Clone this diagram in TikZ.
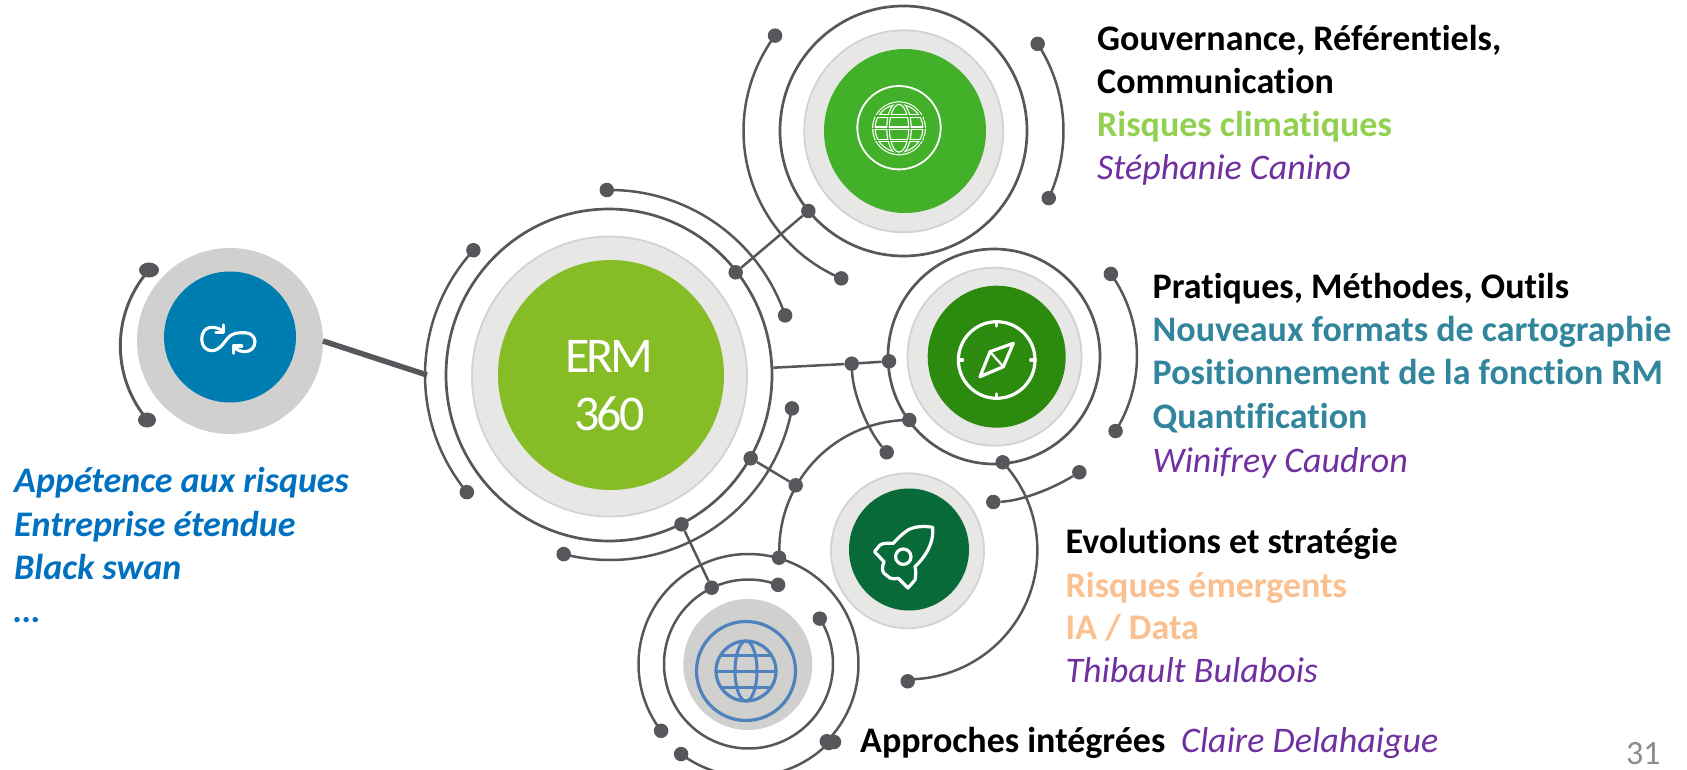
\documentclass[tikz,border=0pt]{standalone}
\usepackage{fontspec}
\setmainfont{Carlito}[Ligatures=NoCommon]
\newfontfamily\ermfont[LetterSpace=-6,Ligatures=NoCommon]{Carlito}
\usetikzlibrary{calc,shapes.geometric}
\definecolor{wirec}{HTML}{55575B}
\definecolor{ermg}{HTML}{86BC25}
\definecolor{topg}{HTML}{43B02A}
\definecolor{compg}{HTML}{2C8A0F}
\definecolor{rockg}{HTML}{076A38}
\definecolor{blueb}{HTML}{007DB0}
\definecolor{halo}{HTML}{E7E7E5}
\definecolor{halob}{HTML}{D2D2D0}
\definecolor{greyb}{HTML}{D0D0CE}
\definecolor{globeb}{HTML}{4F81BD}
\definecolor{txtgreen}{HTML}{92D050}
\definecolor{txtteal}{HTML}{31859C}
\definecolor{txtpeach}{HTML}{FAC090}
\definecolor{txtpurple}{HTML}{7030A0}
\definecolor{txtblue}{HTML}{0070C0}
\definecolor{txtgrey}{HTML}{8B8B8B}
\tikzset{
  disc/.style={ellipse,inner sep=0pt,outer sep=0pt},
  ringc/.style={disc,draw=wirec,line width=2.7pt},
  haloc/.style={disc,fill=halo,draw=halob,line width=1.8pt},
  wire/.style={draw=wirec,line width=2.5pt},
  dotnode/.style={circle,fill=wirec,inner sep=0pt,minimum size=14.5pt},
  dotwide/.style={ellipse,fill=wirec,inner sep=0pt,minimum width=20pt,minimum height=15pt},
  icon/.style={draw=white,line width=3.2pt,line cap=round,line join=round},
  lab/.style={anchor=base west,inner sep=0pt,font=\fontsize{36}{43}\selectfont},
  head/.style={lab,text=black,font=\fontsize{36}{43}\selectfont\bfseries},
  topic/.style={head,text=#1},
  who/.style={lab,text=txtpurple,font=\fontsize{36}{43}\selectfont\itshape},
  lefttxt/.style={lab,text=txtblue,font=\fontsize{36}{43}\selectfont\bfseries\itshape},
}
\newcommand{\ringarc}[6]{%
  \node[dotnode] (#1) at ($(#3)+(#5:#4)$) {};
  \node[dotnode] (#2) at ($(#3)+(#6:#4)$) {};
  \draw[wire] (#1.center) arc[start angle=#5,end angle=#6,radius=#4];
}
\begin{document}
\begin{tikzpicture}[x=1pt,y=-1pt]
\useasboundingbox (0,0) rectangle (1687,770);
% centres
\coordinate (cL) at (234,345);
\coordinate (cE) at (610,375);
\coordinate (cT) at (903.5,131);
\coordinate (cC) at (995,356);
\coordinate (cR) at (909,550);
\coordinate (cB) at (748.5,664);

% thick link and left arc
\node[disc,fill=greyb,minimum width=186pt,minimum height=186pt] (blueouter) at (230,341) {};
\node[disc,fill=blueb,minimum width=132pt,minimum height=131pt] (blueinner) at (230,337) {};
\node[dotwide] (la) at (149,270) {};
\node[dotwide,minimum width=18pt,minimum height=15pt] (lb) at (147,420) {};
\draw[wire,line width=2.9pt] (la.center) arc[start angle=221.4,end angle=139.2,radius=114.7];

% ERM
\node[ringc,minimum width=326pt,minimum height=332pt] (ermring) at (609,375) {};
\node[haloc,minimum width=275pt,minimum height=280pt] (ermhalo) at (609.5,376.5) {};
\node[disc,fill=ermg,minimum width=226pt,minimum height=230pt] (ermdisc) at (611,375) {};
\node[text=white,inner sep=0pt,anchor=base,font=\fontsize{50}{54}\ermfont] (ermA) at (609.5,372) {ERM};
\node[text=white,inner sep=0pt,anchor=base,font=\fontsize{50}{54}\ermfont] (ermB) at (609.5,430) {360};
\node[dotnode] (ermdotA) at (735.7,272.3) {};
\node[dotnode] (ermdotB) at (750.7,458.3) {};
\node[dotnode] (ermdotC) at (681.5,524.3) {};
\coordinate (ermE) at (773.3,367.7);
\coordinate (ermW) at (427,375);
\draw[wire,line width=5.5pt] (323,341) -- (ermW);
\ringarc{ea}{eb}{cE}{185}{222.4}{140.7}
\ringarc{ec}{ed}{cE}{185}{269}{341.2}
\ringarc{ee}{ef}{cE}{185}{10.4}{104.5}

% top green
\node[ringc,minimum width=247pt,minimum height=250pt] (topring) at (903.5,131) {};
\node[haloc,minimum width=199pt,minimum height=202pt] (tophalo) at (903.7,131.3) {};
\node[disc,fill=topg,minimum width=162pt,minimum height=164pt] (topdisc) at (905,131) {};
\ringarc{ta}{tb}{cT}{160}{216.6}{112.9}
\ringarc{tc}{td}{cT}{160}{-33}{24.8}
\node[dotnode] (topdot) at (808.3,211) {};
\draw[wire] (ermdotA) -- (topdot);
% top icon
\draw[white,line width=1.8pt] (899,127.7) circle[radius=41.7];
\begin{scope}
  \clip (899,128.3) circle[radius=27];
  \foreach \lw/\col in {3.7pt/white,1.3pt/topg}{
    \draw[\col,line width=\lw] (899,128.3) circle[radius=25.2];
    \draw[\col,line width=\lw] (899,128.3) ellipse[x radius=11,y radius=25.2];
    \draw[\col,line width=\lw] (870,128.3) -- (928,128.3);
    \draw[\col,line width=\lw] (870,116) -- (928,116);
    \draw[\col,line width=\lw] (870,140.6) -- (928,140.6);
  }
\end{scope}

% compass
\node[ringc,minimum width=212pt,minimum height=215pt] (compring) at (994,356.5) {};
\node[haloc,minimum width=174pt,minimum height=178pt] (comphalo) at (994.5,356.7) {};
\node[disc,fill=compg,minimum width=138pt,minimum height=142pt] (compdisc) at (996.7,356.7) {};
\ringarc{ca}{cb}{cC}{142}{-35.3}{31.9}
\node[dotnode] (cj1) at (851.7,363.7) {};
\node[dotnode] (cj2) at (889,361.3) {};
\node[dotnode] (cj3) at (886.7,452.3) {};
\draw[wire] (ermE) -- (cj1) -- (cj2);
\draw[wire] (cj1) .. controls (853,395) and (868,430) .. (cj3);
% compass icon
\coordinate (cci) at (996.7,360);
\draw[icon] (cci) circle[radius=38.3];
\draw[icon] (996.7,321.7) -- (996.7,326);
\draw[icon] (996.7,398.3) -- (996.7,394);
\draw[icon] (958.4,360) -- (962.7,360);
\draw[icon] (1035,360) -- (1030.7,360);
\draw[icon] (1013.3,343.3) -- (990,351.7) -- (980,376.7) -- (1003.3,366.7) -- cycle;
\draw[icon,line width=2.2pt] (990,351.7) -- (1003.3,366.7);

% rocket
\node[haloc,minimum width=153pt,minimum height=155pt] (rockhalo) at (907.5,550.8) {};
\node[disc,fill=rockg,minimum width=120pt,minimum height=122pt] (rockdisc) at (909,549.5) {};
\node[dotnode] (rj1) at (909.3,420) {};
\node[dotnode] (rj2) at (795.7,485.3) {};
\node[dotnode] (rj3) at (779,557.7) {};
\node[dotnode] (rj4) at (1002.7,462.3) {};
\node[dotnode] (rj5) at (907.7,681.3) {};
\node[dotnode] (rj6) at (993.3,502) {};
\node[dotnode] (rj7) at (1079.3,472.3) {};
\draw[wire] (rj1.center) arc[start angle=270,end angle=176.6,radius=130];
\draw[wire] (rj4.center) arc[start angle=-43,end angle=90.5,radius=129];
\draw[wire] (rj6) .. controls (1020,501) and (1050,490) .. (rj7);
\draw[wire] (ermdotB) -- (rj2);
% rocket icon
\draw[icon] (932.7,527.3) .. controls (925,526) and (915,526) .. (908,530)
  .. controls (902,534) and (897,539) .. (893.3,543.3)
  .. controls (888,543) and (883,543) .. (880,545) -- (874.5,551.7)
  -- (884,561.7) .. controls (882,567) and (882,571) .. (884,573.3)
  -- (890,578) .. controls (893,579) and (896,579) .. (898.3,578.3)
  -- (908,588) -- (915,580) .. controls (916,575) and (916,570) .. (915,566.7)
  .. controls (924,558) and (934,545) .. cycle;
\draw[icon] (903.3,556.7) circle[radius=7.7];

% bottom globe
\node[disc,fill=greyb,minimum width=129pt,minimum height=131pt] (botdisc) at (747.8,664.5) {};
\ringarc{ba}{bb}{cB}{110}{142.6}{404.6}
\ringarc{bc}{bd}{cB}{84.5}{-32.5}{290.5}
\ringarc{be}{bf}{cB}{112.5}{126.8}{44.6}
\node[dotnode] (bg) at (834,742) {};
\node[dotnode] (bj) at (711.7,587.7) {};
\draw[wire] (ermdotC) -- (bj);
\draw[globeb,line width=3.2pt] (746,671) circle[radius=49.5];
\begin{scope}
  \clip (746,671) circle[radius=30.5];
  \draw[globeb,line width=3pt] (746,671) ellipse[x radius=11,y radius=30];
  \draw[globeb,line width=3pt] (710,671) -- (782,671);
  \draw[globeb,line width=3pt] (710,655) -- (782,655);
  \draw[globeb,line width=3pt] (710,687.5) -- (782,687.5);
\end{scope}
\draw[globeb,line width=3.2pt] (746,671) circle[radius=30];

% infinity icon
\draw[draw=white,line width=3.1pt,line cap=round,line join=round]
  (222.5,331) .. controls (219,328) and (215,327.3) .. (211,327.3)
  .. controls (205,327.5) and (201.7,333) .. (201.7,339.3)
  .. controls (201.7,346) and (206,350.7) .. (211.7,350.7)
  .. controls (219,350.7) and (223,344) .. (227,339)
  .. controls (232,332.5) and (238,332.7) .. (245,332.7)
  .. controls (251,332.7) and (255,337) .. (255,341.7)
  .. controls (255,347) and (251,351.7) .. (245,351.7)
  .. controls (241,351.7) and (237,350) .. (234.5,347.5);
\draw[draw=white,line width=3.1pt,line cap=round,line join=round]
  (223.3,325) -- (223.3,332.7) -- (216,332.7);
\draw[draw=white,line width=3.1pt,line cap=round,line join=round]
  (233.3,353.3) -- (233.3,346) -- (241.7,346);

% texts
\node[head] (t1) at (1097,50.3) {Gouvernance, Référentiels,};
\node[head] (t2) at (1097,93.7) {Communication};
\node[topic=txtgreen] (t3) at (1097,137) {Risques climatiques};
\node[who] (t4) at (1097,179.7) {Stéphanie Canino};
\node[head] (p1) at (1152.5,298.7) {Pratiques, Méthodes, Outils};
\node[topic=txtteal] (p2) at (1152.5,341.5) {Nouveaux formats de cartographie};
\node[topic=txtteal] (p3) at (1152.5,384.7) {Positionnement de la fonction RM};
\node[topic=txtteal] (p4) at (1152.5,428.5) {Quantification};
\node[who] (p5) at (1152.5,472) {Winifrey Caudron};
\node[head] (e1) at (1065.5,553.7) {Evolutions et stratégie};
\node[topic=txtpeach] (e2) at (1065.5,597) {Risques émergents};
\node[topic=txtpeach] (e3) at (1065.5,639.3) {IA / Data};
\node[who] (e4) at (1065.5,682.7) {Thibault Bulabois};
\node[head] (a1) at (860,752.7) {Approches intégrées};
\node[who] (a2) at (1181,752.7) {Claire Delahaigue};
\node[lefttxt] (l1) at (14,492.7) {Appétence aux risques};
\node[lefttxt] (l2) at (14,536) {Entreprise étendue};
\node[lefttxt] (l3) at (14,579.3) {Black swan};
\node[lefttxt] (l4) at (14,622.7) {…};
\node[lab,text=txtgrey,font=\fontsize{34}{40}\selectfont] (pg) at (1626,764) {31};
\end{tikzpicture}
\end{document}
